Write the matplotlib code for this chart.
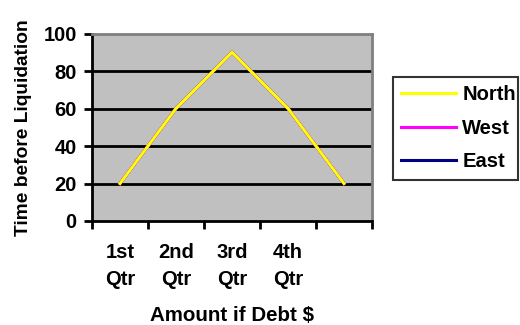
import matplotlib.pyplot as plt
import numpy as np

plt.rcParams['font.family'] = ['Liberation Sans', 'DejaVu Sans']
plt.rcParams['font.weight'] = 'bold'

# quarterly series
categories = ['1st\nQtr', '2nd\nQtr', '3rd\nQtr', '4th\nQtr', '']
north = [20, 60, 90, 60, 20]
west = [20, 60, 90, 60, 20]
east = [20, 60, 90, 60, 20]
yticks = [0, 20, 40, 60, 80, 100]

fig = plt.figure(figsize=(5.2, 3.25), dpi=100)
ax = fig.add_axes([92 / 520, 1 - 221 / 325, 280 / 520, 187.5 / 325])
ax.set_facecolor('#c0c0c0')

x = np.arange(len(categories))
ax.plot(x, east, color='#000080', lw=2.2, label='East', zorder=3)
ax.plot(x, west, color='#ff00ff', lw=2.2, label='West', zorder=4)
ax.plot(x, north, color='#ffff00', lw=2.2, label='North', zorder=5)

for y in yticks[1:-1]:
    ax.axhline(y, color='black', lw=2, zorder=2)

ax.set_xlim(-0.5, len(categories) - 0.5)
ax.set_ylim(0, 100)
ax.set_yticks(yticks)
ax.set_xticks(x)
ax.set_xticklabels(categories, fontsize=14.5, fontweight='bold', linespacing=1.55)
ax.set_xticks(np.arange(len(categories) + 1) - 0.5, minor=True)
ax.tick_params(axis='x', which='major', length=0, pad=16)
ax.tick_params(axis='x', which='minor', length=6, width=2, direction='out')
ax.tick_params(axis='y', length=6, width=2, direction='out', labelsize=14.5, pad=5)
for lab in ax.get_yticklabels():
    lab.set_fontweight('bold')

for side in ['left', 'bottom']:
    ax.spines[side].set_linewidth(2)
    ax.spines[side].set_color('black')
for side in ['top', 'right']:
    ax.spines[side].set_linewidth(2)
    ax.spines[side].set_color('#808080')

ax.set_xlabel('Amount if Debt $', fontsize=14.8, fontweight='bold', labelpad=12)
ax.set_ylabel('Time before Liquidation', fontsize=13.8, fontweight='bold', labelpad=8)

handles, labels = ax.get_legend_handles_labels()
order = [2, 1, 0]
leg = ax.legend([handles[i] for i in order], [labels[i] for i in order],
                loc='upper left', bbox_to_anchor=(393 / 520, 1 - 177 / 325, 125 / 520, 100 / 325),
                bbox_transform=fig.transFigure, mode='expand', frameon=True, fancybox=False,
                edgecolor='black', fontsize=14.5, handlelength=2.7, handletextpad=0.33,
                labelspacing=0.72, borderpad=0.42, borderaxespad=0)
leg.get_frame().set_linewidth(1.5)
for t in leg.get_texts():
    t.set_fontweight('bold')

fig.savefig('out.png', dpi=100)
